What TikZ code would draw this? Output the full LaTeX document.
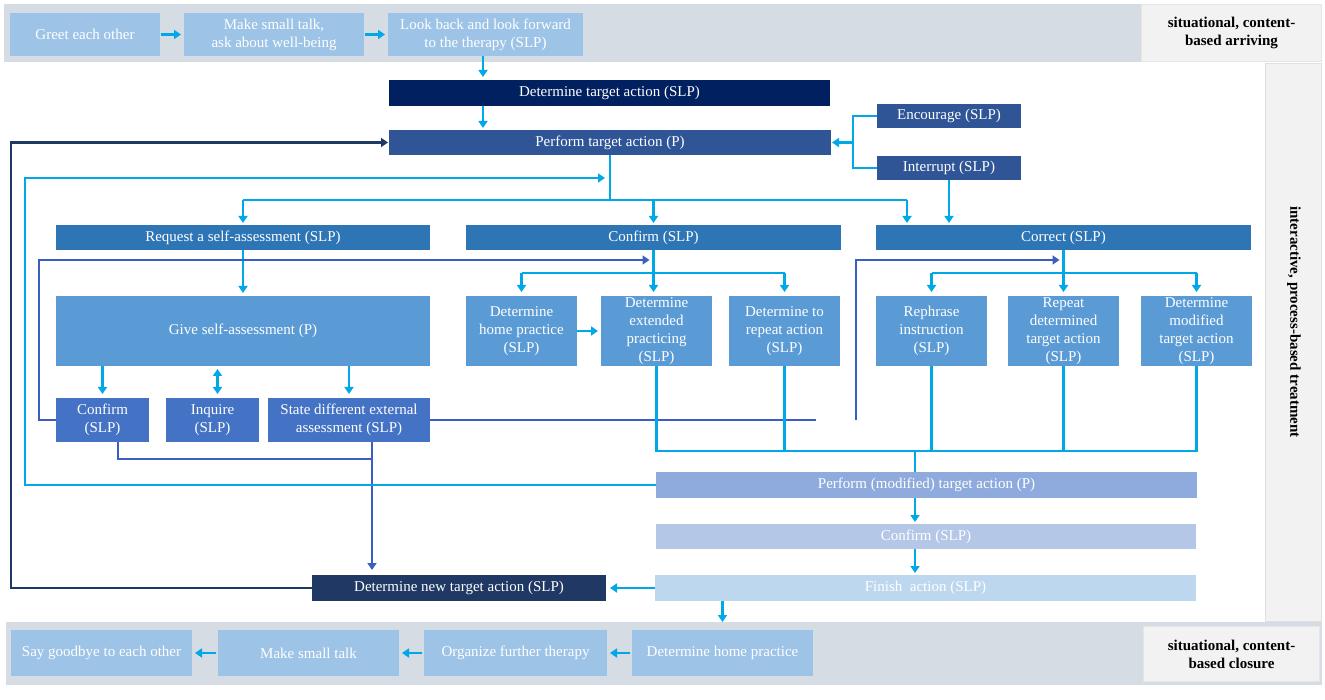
\documentclass[tikz,border=0pt]{standalone}
\usepackage{fontspec}
\setmainfont{Liberation Serif}
\usetikzlibrary{arrows.meta}
\definecolor{bandc}{HTML}{D6DCE4}
\definecolor{labc}{HTML}{F2F2F2}
\definecolor{stepc}{HTML}{9DC3E6}
\definecolor{navy}{HTML}{002060}
\definecolor{navyb}{HTML}{1F3864}
\definecolor{dblue}{HTML}{2F5597}
\definecolor{mblue}{HTML}{2E75B6}
\definecolor{sblue}{HTML}{5B9BD5}
\definecolor{kblue}{HTML}{4472C4}
\definecolor{pmodc}{HTML}{8FAADC}
\definecolor{confc}{HTML}{B4C7E7}
\definecolor{finc}{HTML}{BDD7EE}
\definecolor{lbc}{RGB}{0,168,232}
\definecolor{cbc}{RGB}{59,95,192}
\begin{document}
\begin{tikzpicture}[x=1pt,y=-1pt,
 box/.style={inner sep=1pt, outer sep=0pt, align=center, text=white, font=\fontsize{15}{18}\selectfont},
 lab/.style={fill=labc, draw=black!10, line width=0.8pt, inner sep=0pt, outer sep=0pt, align=center, font=\bfseries\fontsize{15}{18}\selectfont},
 cl/.style={draw=lbc, line width=2.7pt},
 cb/.style={draw=cbc, line width=2.4pt},
 cn/.style={draw=navyb, line width=2.4pt},
 arr/.style={-{Triangle[width=9pt,length=7pt]}},
 darr/.style={{Triangle[width=9pt,length=7pt]}-{Triangle[width=9pt,length=7pt]}},
]
\fill[white] (0,0) rectangle (1325,700);
\useasboundingbox (0,0) rectangle (1325,700);
% bands and labels
\fill[bandc] (4,4) rectangle (1141,62);
\node[lab, minimum width=180pt, minimum height=57pt] (labtop) at (1231.5,33) {situational, content-\\based arriving};
\filldraw[fill=labc, draw=black!12, line width=0.8pt] (1265,63) rectangle (1321,621);
\node[lab, draw=none, fill=none, rotate=-90] (labmid) at (1294,322) {interactive, process-based treatment};
\fill[bandc] (6,622) rectangle (1322,685);
\node[lab, minimum width=176pt, minimum height=55pt] (labbot) at (1231.5,654) {situational, content-\\based closure};

% top row
\node[box, fill=stepc, minimum width=150pt, minimum height=43pt] (greet) at (85,34.5) {Greet each other};
\node[box, fill=stepc, minimum width=180pt, minimum height=43pt] (talka) at (274,34.5) {Make small talk,\\ask about well-being};
\node[box, fill=stepc, minimum width=195pt, minimum height=43pt] (look) at (485.5,34.5) {Look back and look forward\\to the therapy (SLP)};
\draw[cl,arr,shorten <=1pt,shorten >=3pt] (greet.east) -- (talka.west);
\draw[cl,arr,shorten <=1pt,shorten >=3pt] (talka.east) -- (look.west);

% main chain
\node[box, fill=navy, minimum width=441pt, minimum height=26pt] (dta) at (609.5,93) {Determine target action (SLP)};
\node[box, fill=dblue, minimum width=442pt, minimum height=25pt] (pta) at (610,142.5) {Perform target action (P)};
\coordinate (xa) at (483,0);
\draw[cl,arr,shorten >=3pt] (look.south -| xa) -- (dta.north -| xa);
\draw[cl,arr,shorten >=2pt] (dta.south -| xa) -- (pta.north -| xa);

\node[box, fill=dblue, minimum width=144pt, minimum height=24pt] (enc) at (949,116) {Encourage (SLP)};
\node[box, fill=dblue, minimum width=144pt, minimum height=24pt] (intr) at (949,168) {Interrupt (SLP)};
\coordinate (j1) at (853,142.5);
\draw[cl] (enc.west) -| (j1) |- (intr.west);
\draw[cl,arr,shorten >=1pt] (j1) -- (pta.east);

% second row
\node[box, fill=mblue, minimum width=374pt, minimum height=25pt] (req) at (243,237.5) {Request a self-assessment (SLP)};
\node[box, fill=mblue, minimum width=375pt, minimum height=25pt] (conf) at (653.5,237.5) {Confirm (SLP)};
\node[box, fill=mblue, minimum width=375pt, minimum height=25pt] (corr) at (1063.5,237.5) {Correct (SLP)};
\coordinate (b1) at (610,200);
\coordinate (b2) at (907,200);
\draw[cl] (pta.south) -- (b1);
\draw[cl] (req.north |- b1) -- (b2);
\draw[cl,arr,shorten >=2pt] (req.north |- b1) -- (req.north);
\draw[cl,arr,shorten >=2pt] (conf.north |- b1) -- (conf.north);
\draw[cl,arr,shorten >=2pt] (b2) -- (b2 |- corr.north);
\draw[cl,arr,shorten >=2pt] (intr.south) -- (intr.south |- corr.north);

% self-assessment
\node[box, fill=sblue, minimum width=374pt, minimum height=70pt] (give) at (243,331) {Give self-assessment (P)};
\draw[cl,arr,shorten >=3pt] (req.south) -- (give.north);
\node[box, fill=kblue, minimum width=93pt, minimum height=44pt] (sconf) at (102.5,420) {Confirm\\(SLP)};
\node[box, fill=kblue, minimum width=93pt, minimum height=44pt] (inq) at (212.5,420) {Inquire\\(SLP)};
\node[box, fill=kblue, minimum width=162pt, minimum height=44pt] (state) at (349,420) {State different external\\assessment (SLP)};
\draw[cl,arr,shorten >=4pt] (give.south -| sconf.north) -- (sconf.north);
\draw[cl,darr,shorten <=3pt,shorten >=4pt] ([xshift=5pt]give.south -| inq.north) -- ([xshift=5pt]inq.north);
\draw[cl,arr,shorten >=4pt] (give.south -| state.north) -- (state.north);

% blue connectors
\coordinate (k1) at (39,260);
\draw[cb,arr,shorten >=4pt] (sconf.west) -| (k1) -- (conf.south |- k1);
\coordinate (s1) at (816,420);
\draw[cb] (state.east) -- (s1);
\coordinate (s2) at (856,420);
\draw[cb,arr,shorten >=4pt] (s2) |- (corr.south |- k1);
\coordinate (t1) at (118,459);
\coordinate (t2) at (372,459);
\draw[cb] (sconf.south -| t1) -- (t1) -- (t2);

% confirm branch
\node[box, fill=sblue, minimum width=111pt, minimum height=70pt] (home) at (521.5,331) {Determine\\home practice\\(SLP)};
\node[box, fill=sblue, minimum width=111pt, minimum height=70pt] (ext) at (656.5,331) {Determine\\extended\\practicing\\(SLP)};
\node[box, fill=sblue, minimum width=111pt, minimum height=70pt] (repa) at (784.5,331) {Determine to\\repeat action\\(SLP)};
\coordinate (h1) at (0,273);
\draw[cl,arr,shorten >=4pt] (conf.south) -- (conf.south |- ext.north);
\draw[cl] (home.north |- h1) -- (repa.north |- h1);
\draw[cl,arr,shorten >=4pt] (home.north |- h1) -- (home.north);
\draw[cl,arr,shorten >=4pt] (repa.north |- h1) -- (repa.north);
\draw[cl,arr,shorten >=3pt] (home.east) -- (ext.west);

% correct branch
\node[box, fill=sblue, minimum width=111pt, minimum height=70pt] (reph) at (931.5,331) {Rephrase\\instruction\\(SLP)};
\node[box, fill=sblue, minimum width=111pt, minimum height=70pt] (rep2) at (1063.5,331) {Repeat\\determined\\target action\\(SLP)};
\node[box, fill=sblue, minimum width=111pt, minimum height=70pt] (modt) at (1196.5,331) {Determine\\modified\\target action\\(SLP)};
\draw[cl,arr,shorten >=4pt] (corr.south) -- (rep2.north);
\draw[cl] (reph.north |- h1) -- (modt.north |- h1);
\draw[cl,arr,shorten >=4pt] (reph.north |- h1) -- (reph.north);
\draw[cl,arr,shorten >=4pt] (modt.north |- h1) -- (modt.north);

% lower chain
\node[box, fill=pmodc, minimum width=541pt, minimum height=26pt] (pmod) at (926.5,485) {Perform (modified) target action (P)};
\node[box, fill=confc, minimum width=540pt, minimum height=25pt] (cltwo) at (926,536.5) {Confirm (SLP)};
\node[box, fill=finc, minimum width=541pt, minimum height=26pt] (fin) at (925.5,588) {Finish\ \ action (SLP)};
\node[box, fill=navyb, minimum width=294pt, minimum height=26pt] (dnta) at (459,588) {Determine new target action (SLP)};

\coordinate (g1) at (0,451);
\draw[cl] (ext.south) -- (ext.south |- g1) -- (modt.south |- g1) -- (modt.south);
\draw[cl] (repa.south) -- (repa.south |- g1);
\draw[cl] (reph.south) -- (reph.south |- g1);
\draw[cl] (rep2.south) -- (rep2.south |- g1);
\coordinate (xm) at (915,0);
\draw[cl] (xm |- g1) -- (xm |- pmod.north);
\draw[cl,arr,shorten >=2pt] (xm |- pmod.south) -- (xm |- cltwo.north);
\draw[cl,arr,shorten >=2pt] (xm |- cltwo.south) -- (xm |- fin.north);
\draw[cl,arr,shorten >=4pt] (fin.west) -- (dnta.east);
\draw[cb,arr,shorten >=5pt] (state.south -| t2) -- (dnta.north -| t2);

% loops
\coordinate (l1) at (25,178);
\draw[cl,arr,shorten >=5pt] (pmod.west) -| (l1) -- (b1 |- l1);
\coordinate (n1) at (11,142.5);
\draw[cn,arr,shorten >=1pt] (dnta.west) -| (n1) -- (pta.west);

% bottom row
\node[box, fill=stepc, minimum width=181pt, minimum height=46pt] (hp2) at (722.5,653) {Determine home practice};
\node[box, fill=stepc, minimum width=183pt, minimum height=46pt] (org) at (515.5,653) {Organize further therapy};
\node[box, fill=stepc, minimum width=181pt, minimum height=46pt] (talkb) at (308.5,653) {Make small talk};
\node[box, fill=stepc, minimum width=181pt, minimum height=46pt] (bye) at (101.5,653) {Say goodbye to each other};
\draw[cl,arr,shorten >=8pt] (hp2.north |- fin.south) -- (hp2.north);
\draw[cl,arr,shorten <=2pt,shorten >=3pt] (hp2.west) -- (org.east);
\draw[cl,arr,shorten <=2pt,shorten >=3pt] (org.west) -- (talkb.east);
\draw[cl,arr,shorten <=2pt,shorten >=3pt] (talkb.west) -- (bye.east);
\end{tikzpicture}
\end{document}
